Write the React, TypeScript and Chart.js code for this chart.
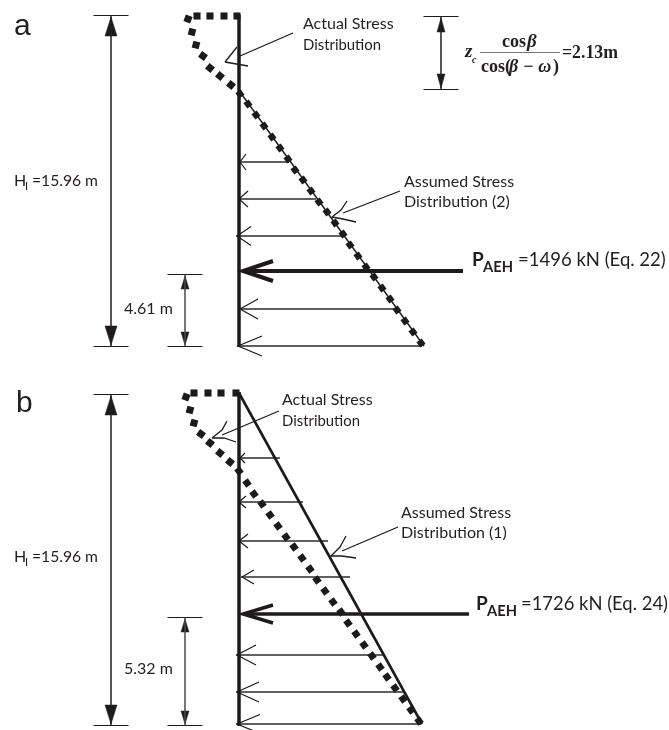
import React, { useEffect, useRef } from "react";
import { Chart, registerables } from "chart.js";

Chart.register(...registerables);

type P = [number, number];

// ---- Panel a values ----
const wallA: P[] = [[239, 15], [239, 347]];
const assumedLineA: P[] = [[240, 92], [424, 346]];
const actualDotsA: P[] = [
  [237, 16], [224, 16], [210, 16], [197, 16], [188, 19], [192, 32], [196, 45], [203, 56], [210, 68], [220, 76], [231, 85],
  [240, 94], [248, 104], [256, 115], [264, 126], [272, 137], [280, 148], [288, 159], [295, 170], [303, 180], [311, 191],
  [319, 202], [327, 212], [335, 223], [343, 234], [350, 245], [358, 256], [366, 267], [374, 277], [382, 288], [390, 299],
  [397, 310], [405, 321], [413, 332], [421, 343],
];
const dotAnglesA = [0, 0, 0, 0, 20, 15, 15, 35, 40, 40, 40];
const loadYA = [162, 199, 236, 309, 346];
const loadEndXA = [289, 316, 343, 397, 422];
const loadTipXA = [239, 238, 236, 239, 237];
const loadBarbXA = [246, 248, 251, 258, 262];
const loadBarbDyA = [8, 8, 9.5, 10, 10];
const resultantA = { y: 271, from: 463, tip: 243, barbX: 273, barbDy: 10 };

// ---- Panel b values ----
const wallB: P[] = [[239, 392], [239, 726]];
const assumedLineB: P[] = [[239, 393], [422, 724]];
const actualDotsB: P[] = [
  [236, 393], [221, 393], [208, 393], [194, 393], [186, 397], [190, 410], [194, 423], [201, 434], [210, 443], [220, 453], [230, 462],
  [239, 471], [247, 483], [254, 494], [262, 504], [270, 515], [278, 526], [286, 537], [294, 547], [302, 558], [310, 569],
  [317, 580], [325, 591], [333, 602], [341, 612], [348, 623], [356, 634], [364, 645], [372, 656], [380, 667], [387, 677],
  [395, 688], [403, 699], [411, 710], [419, 721],
];
const dotAnglesB = [0, 0, 0, 0, 20, 15, 15, 35, 40, 40, 40];
const loadYB = [458, 502, 541, 577, 655, 692, 724];
const loadEndXB = [280, 303, 328, 350, 384, 404, 421];
const loadTipXB = [239, 238, 238, 241, 236, 236, 236];
const loadBarbXB = [245, 246, 248, 254, 256, 259, 260];
const loadBarbDyB = [5, 6, 7, 7, 10, 10, 9.5];
const resultantB = { y: 614, from: 469, tip: 243, barbX: 273, barbDy: 9 };
const slopeAngle = 54;

// ---- Dimension lines: x, top, bottom, tick half width, head half width, head length, colour ----
const dimensions = [
  { x: 111, top: 16, bottom: 346, tick: 17.5, hw: 6, hl: 19, color: "#231f20" },
  { x: 185, top: 275, bottom: 346, tick: 17.5, hw: 4, hl: 13, color: "#4a4a4a" },
  { x: 441, top: 17, bottom: 89, tick: 17.5, hw: 4, hl: 14, color: "#231f20" },
  { x: 111, top: 395, bottom: 725, tick: 17.5, hw: 6, hl: 19, color: "#231f20" },
  { x: 185, top: 618, bottom: 725, tick: 17.5, hw: 4, hl: 13, color: "#4a4a4a" },
];

// ---- Callouts ----
const callouts: { leader: P[]; barb1: P[]; barb2: P[] }[] = [
  { leader: [[293, 33], [240, 56]], barb1: [[237, 47], [225, 62]], barb2: [[225, 62], [248, 66]] },
  { leader: [[400, 191], [343, 213]], barb1: [[347, 201], [341, 210], [332, 217]], barb2: [[332, 217], [343, 219], [356, 222]] },
  { leader: [[279, 411], [222, 435]], barb1: [[227, 421], [222, 430], [212, 438]], barb2: [[212, 438], [224, 438], [236, 442]] },
  { leader: [[398, 527], [342, 551]], barb1: [[346, 536], [340, 547], [331, 556]], barb2: [[331, 556], [342, 556], [356, 558]] },
];

const fractionBar: P[] = [[480, 52.5], [560, 52.5]];

// ---- Texts ----
const SANS = "Lato, 'Open Sans', sans-serif";
const SERIF = "'Liberation Serif', serif";
const texts: { t: string; x: number; y: number; font: string; w?: number }[] = [
  { t: "a", x: 14, y: 35, font: "30px 'Liberation Sans'" },
  { t: "b", x: 16, y: 412, font: "30px 'Liberation Sans'" },
  { t: "Actual Stress", x: 303, y: 29, font: `16px ${SANS}`, w: 93 },
  { t: "Distribution", x: 303, y: 50, font: `16px ${SANS}`, w: 78 },
  { t: "Assumed Stress", x: 404, y: 187, font: `16px ${SANS}`, w: 112 },
  { t: "Distribution (2)", x: 404, y: 207, font: `16px ${SANS}`, w: 108 },
  { t: "Actual Stress", x: 282, y: 405, font: `16px ${SANS}`, w: 93 },
  { t: "Distribution", x: 282, y: 426, font: `16px ${SANS}`, w: 78 },
  { t: "Assumed Stress", x: 401, y: 518, font: `16px ${SANS}`, w: 112 },
  { t: "Distribution (1)", x: 401, y: 538, font: `16px ${SANS}`, w: 108 },
  { t: "H", x: 14, y: 186, font: `16px ${SANS}` },
  { t: "I", x: 25, y: 190, font: `11px ${SANS}` },
  { t: "=15.96 m", x: 32, y: 186, font: `16px ${SANS}`, w: 66 },
  { t: "H", x: 14, y: 562, font: `16px ${SANS}` },
  { t: "I", x: 25, y: 566, font: `11px ${SANS}` },
  { t: "=15.96 m", x: 32, y: 562, font: `16px ${SANS}`, w: 66 },
  { t: "4.61 m", x: 124, y: 314, font: `16px ${SANS}`, w: 49 },
  { t: "5.32 m", x: 124, y: 674, font: `16px ${SANS}`, w: 49 },
  { t: "P", x: 472, y: 266, font: `bold 19px ${SANS}` },
  { t: "AEH", x: 483, y: 272, font: `bold 15px ${SANS}`, w: 30 },
  { t: "=1496 kN (Eq. 22)", x: 518, y: 266, font: `18.5px ${SANS}`, w: 148 },
  { t: "P", x: 476, y: 610, font: `bold 19px ${SANS}` },
  { t: "AEH", x: 487, y: 616, font: `bold 15px ${SANS}`, w: 30 },
  { t: "=1726 kN (Eq. 24)", x: 521, y: 610, font: `18.5px ${SANS}`, w: 147 },
  { t: "z", x: 465, y: 57, font: `italic bold 19px ${SERIF}` },
  { t: "c", x: 472, y: 63, font: `italic bold 10px ${SERIF}` },
  { t: "cos", x: 502, y: 47, font: `bold 18px ${SERIF}` },
  { t: "β", x: 527, y: 47, font: `italic bold 19px ${SERIF}` },
  { t: "cos(", x: 481, y: 72, font: `bold 18px ${SERIF}` },
  { t: "β − ω", x: 509, y: 72, font: `italic bold 18px ${SERIF}`, w: 44 },
  { t: ")", x: 553, y: 72, font: `bold 18px ${SERIF}` },
  { t: "=2.13m", x: 562, y: 58, font: `bold 18px ${SERIF}`, w: 56 },
];

const INK = "#1c1a1b";
const pts = (list: P[]) => list.map(([x, y]) => ({ x, y }));
const stroke = (list: P[], width: number, color = INK, tension = 0) => ({
  data: pts(list), borderColor: color, borderWidth: width, pointRadius: 0, fill: false, tension,
});
const solid = (list: P[], color = INK) => ({
  data: pts(list), borderColor: color, backgroundColor: color, borderWidth: 0.5, pointRadius: 0, fill: "shape",
});
const dots = (list: P[], angles: number[], rTop: number, rSlope: number) => ({
  data: pts(list), showLine: false, pointStyle: "rect", pointBackgroundColor: INK, pointBorderWidth: 0,
  pointRadius: list.map((_, i) => (i < angles.length ? rTop : rSlope)),
  pointRotation: list.map((_, i) => (i < angles.length ? angles[i] : slopeAngle)),
});
const loadSet = (ys: number[], ends: number[], tips: number[], barbs: number[], dys: number[]) =>
  ys.flatMap((y, i) => [
    stroke([[ends[i], y], [tips[i], y]], 1.3, "#2b2b2b"),
    stroke([[barbs[i], y - dys[i]], [tips[i] + 1, y], [barbs[i], y + dys[i]]], 1.2),
  ]);
const resultantSet = (r: typeof resultantA, w: number) => [
  stroke([[r.from, r.y], [r.tip + 2, r.y]], w),
  stroke([[r.barbX, r.y - r.barbDy], [r.tip, r.y], [r.barbX, r.y + r.barbDy]], w),
];

const buildDatasets = () => [
  stroke(wallA, 3.5),
  stroke(wallB, 3.5),
  dots(actualDotsA, dotAnglesA, 5, 4.6),
  dots(actualDotsB, dotAnglesB, 5, 4.8),
  stroke(assumedLineA, 1.4),
  stroke(assumedLineB, 2.6),
  ...loadSet(loadYA, loadEndXA, loadTipXA, loadBarbXA, loadBarbDyA),
  ...loadSet(loadYB, loadEndXB, loadTipXB, loadBarbXB, loadBarbDyB),
  ...resultantSet(resultantA, 4),
  ...resultantSet(resultantB, 3.4),
  ...dimensions.flatMap((d) => [
    stroke([[d.x, d.top], [d.x, d.bottom]], 1.5, d.color),
    stroke([[d.x - d.tick, d.top - 0.5], [d.x + d.tick, d.top - 0.5]], 1.2, INK),
    stroke([[d.x - d.tick, d.bottom + 0.5], [d.x + d.tick, d.bottom + 0.5]], 1.2, INK),
    solid([[d.x, d.top + 1], [d.x + d.hw, d.top + 1 + d.hl], [d.x - d.hw, d.top + 1 + d.hl], [d.x, d.top + 1]]),
    solid([[d.x, d.bottom - 1], [d.x + d.hw, d.bottom - 1 - d.hl], [d.x - d.hw, d.bottom - 1 - d.hl], [d.x, d.bottom - 1]]),
  ]),
  ...callouts.flatMap((c) => [stroke(c.leader, 1.3), stroke(c.barb1, 1.3), stroke(c.barb2, 1.3)]),
  stroke(fractionBar, 1, "#777777"),
];

const textPlugin = {
  id: "diagramText",
  afterDraw(chart: any) {
    const { ctx, scales } = chart;
    ctx.save();
    ctx.fillStyle = "#231f20";
    ctx.textBaseline = "alphabetic";
    ctx.textAlign = "left";
    for (const item of texts) {
      ctx.font = item.font;
      const px = scales.x.getPixelForValue(item.x);
      const py = scales.y.getPixelForValue(item.y);
      if (item.w) ctx.fillText(item.t, px, py, item.w);
      else ctx.fillText(item.t, px, py);
    }
    ctx.restore();
  },
};

export default function App() {
  const ref = useRef<HTMLCanvasElement>(null);
  useEffect(() => {
    const chart = new Chart(ref.current as HTMLCanvasElement, {
      type: "line",
      data: { datasets: buildDatasets() as any },
      options: {
        animation: false,
        responsive: false,
        events: [],
        layout: { padding: 0, autoPadding: false },
        plugins: { legend: { display: false }, tooltip: { enabled: false } },
        scales: {
          x: { type: "linear", min: 0, max: 669, display: false },
          y: { type: "linear", min: 0, max: 730, reverse: true, display: false },
        },
      },
      plugins: [textPlugin],
    });
    return () => chart.destroy();
  }, []);
  return (
    <div style={{ position: "absolute", left: 0, top: 0, width: 669, height: 730, background: "#fff" }}>
      <canvas ref={ref} width={669} height={730} style={{ display: "block" }} />
    </div>
  );
}
